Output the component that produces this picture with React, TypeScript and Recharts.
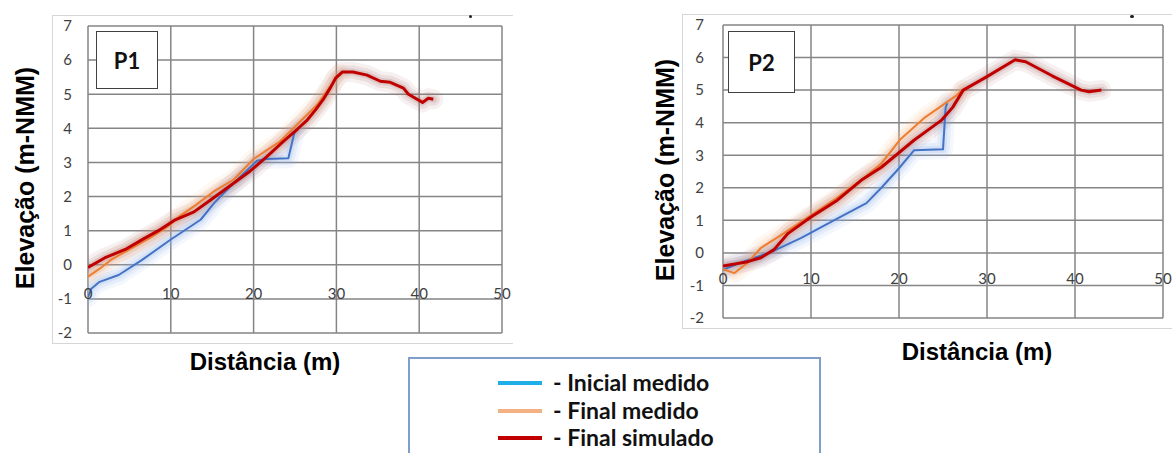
import React from "react";
import { LineChart, Line, XAxis, YAxis, CartesianGrid } from "recharts";

type Pt = [number, number];

// Distance (m), Elevation (m-NMM)
const p1Inicial: Pt[] = [
  [0, -0.95], [0.4, -0.7], [1.4, -0.5], [3.7, -0.3], [6.4, 0.12], [10, 0.74], [13.6, 1.32],
  [15.2, 1.8], [17.2, 2.3], [20.4, 3.05], [21.5, 3.1], [24.2, 3.12], [24.9, 3.85], [25.4, 4.0],
];
const p1Final: Pt[] = [
  [0, -0.35], [1.5, -0.1], [2.8, 0.15], [5, 0.45], [7.6, 0.8], [9.5, 1.1], [11.2, 1.45], [13, 1.75],
  [15.2, 2.15], [17.6, 2.5], [20, 3.1], [23.2, 3.62], [24.8, 4.0], [27.7, 4.7],
  [29.9, 5.45], [30.4, 5.6],
];
const p1Simulado: Pt[] = [
  [0, -0.08], [2, 0.2], [4.5, 0.45], [6.7, 0.76], [8.5, 1.0], [10.4, 1.3], [12.8, 1.55], [14.8, 1.9],
  [16.5, 2.2], [18.2, 2.5], [19.6, 2.75], [21.5, 3.15], [23.6, 3.62], [25.3, 3.98], [26.5, 4.25],
  [27.5, 4.55], [28.5, 4.88], [29.3, 5.2], [29.9, 5.47], [30.7, 5.65], [32, 5.65], [33.7, 5.56],
  [35.3, 5.38], [36.5, 5.35], [38.1, 5.18], [38.7, 5.0], [40.4, 4.76], [41.1, 4.88], [41.7, 4.85],
];

const p2Inicial: Pt[] = [
  [0, -0.52], [2, -0.3], [5.5, 0.03], [8.9, 0.46], [12.6, 1.0], [16.3, 1.53], [18, 2.0], [20, 2.6],
  [21.7, 3.15], [25, 3.18], [25.3, 4.47], [25.5, 4.6],
];
const p2Final: Pt[] = [
  [0, -0.5], [1.3, -0.62], [2.8, -0.3], [4.3, 0.15], [6.9, 0.6], [8, 0.8], [10, 1.15], [13, 1.7],
  [16, 2.3], [18, 2.75], [20.2, 3.5], [22.8, 4.13], [26.5, 4.83], [27.2, 5.0],
];
const p2Simulado: Pt[] = [
  [0, -0.4], [2.8, -0.27], [4.3, -0.15], [5.8, 0.1], [7.4, 0.6], [10, 1.1], [13, 1.62], [15.7, 2.23],
  [18, 2.63], [21.7, 3.46], [24.8, 4.07], [26.1, 4.47], [27.3, 5.0], [29.9, 5.4], [33.2, 5.93],
  [34.4, 5.87], [37.4, 5.44], [40.7, 5.0], [41.6, 4.95], [43, 5.0],
];

const xTicks = [0, 10, 20, 30, 40, 50];
const yTicks = [-2, -1, 0, 1, 2, 3, 4, 5, 6, 7];
const legendNames = ["- Inicial medido", "- Final medido", "- Final simulado"];
const legendColors = ["#1FAEE6", "#F4B183", "#C00000"];
const seriesColors = ["#4472C4", "#ED7D31", "#C00000"];
const glowColors = ["#8fb2ec", "#f7b98e", "#a8706f"];
const yTitle = "Elevação (m-NMM)";
const xTitle = "Distância (m)";

const toRows = (pts: Pt[]) => pts.map(([x, y]) => ({ x, y }));

const tickFont = "Lato, 'Liberation Sans', sans-serif";
const titleFont = "'Liberation Sans', Arial, sans-serif";

const renderXTick = (props: any) => (
  <text
    key={`xt-${props.payload.value}`}
    x={props.x}
    y={props.y - 40}
    textAnchor="middle"
    dominantBaseline="central"
    fill="#404040"
    fontSize={15}
    fontFamily={tickFont}
  >
    {props.payload.value}
  </text>
);

type PanelProps = {
  left: number;
  top: number;
  width: number;
  height: number;
  margin: { top: number; right: number; bottom: number; left: number };
  xAxisHeight: number;
  yAxisWidth: number;
  tickGap: number;
  inicial: Pt[];
  final: Pt[];
  simulado: Pt[];
};

const glowLayers = [
  { width: 20, opacity: 0.1 },
  { width: 13, opacity: 0.14 },
  { width: 7, opacity: 0.2 },
];

function Panel(p: PanelProps) {
  const series = [p.inicial, p.final, p.simulado];
  const widths = [2, 2, 3];
  return (
    <div
      style={{
        position: "absolute",
        left: p.left,
        top: p.top,
        width: p.width,
        height: p.height,
        borderTop: "1px solid #d6d6d6",
        borderLeft: "1px solid #d6d6d6",
        borderBottom: "1px solid #d6d6d6",
        boxSizing: "border-box",
      }}
    >
      <div style={{ position: "absolute", left: -1, top: -1 }}>
        <LineChart width={p.width} height={p.height} margin={p.margin}>
          <CartesianGrid stroke="#858585" strokeWidth={1.5} />
          <XAxis
            type="number"
            dataKey="x"
            domain={[0, 50]}
            ticks={xTicks}
            height={p.xAxisHeight}
            tickSize={0}
            tickMargin={0}
            axisLine={false}
            tickLine={false}
            tick={renderXTick}
            interval={0}
            allowDataOverflow
          />
          <YAxis
            type="number"
            dataKey="y"
            domain={[-2, 7]}
            ticks={yTicks}
            width={p.yAxisWidth}
            tickSize={0}
            tickMargin={p.tickGap}
            axisLine={false}
            tickLine={false}
            tick={{ fill: "#404040", fontSize: 15, fontFamily: tickFont }}
            interval={0}
            allowDataOverflow
          />
          {glowLayers.map((g, gi) =>
            series.map((s, i) => (
              <Line
                key={`g${gi}-${i}`}
                data={toRows(s)}
                dataKey="y"
                stroke={glowColors[i]}
                strokeOpacity={g.opacity}
                strokeWidth={g.width}
                strokeLinecap="round"
                strokeLinejoin="round"
                dot={false}
                activeDot={false}
                isAnimationActive={false}
              />
            ))
          )}
          {series.map((s, i) => (
            <Line
              key={`s-${i}`}
              data={toRows(s)}
              dataKey="y"
              stroke={seriesColors[i]}
              strokeWidth={widths[i]}
              strokeLinejoin="round"
              dot={false}
              isAnimationActive={false}
            />
          ))}
        </LineChart>
      </div>
    </div>
  );
}

function Title({ text, cx, cy, rotate, size }: { text: string; cx: number; cy: number; rotate?: boolean; size: number }) {
  return (
    <div
      style={{
        position: "absolute",
        left: cx,
        top: cy,
        transform: `translate(-50%, -50%)${rotate ? " rotate(-90deg)" : ""}`,
        whiteSpace: "nowrap",
        fontFamily: titleFont,
        fontWeight: 700,
        fontSize: size,
        color: "#000",
        lineHeight: 1,
      }}
    >
      {text}
    </div>
  );
}

function PBox({ label, left, top, width, height }: { label: string; left: number; top: number; width: number; height: number }) {
  return (
    <div
      style={{
        position: "absolute",
        left,
        top,
        width,
        height,
        border: "1.5px solid #404040",
        background: "#fff",
        boxSizing: "border-box",
        display: "flex",
        alignItems: "center",
        justifyContent: "center",
        fontFamily: tickFont,
        fontWeight: 700,
        fontSize: 22,
        color: "#111",
      }}
    >
      {label}
    </div>
  );
}

export default function App() {
  return (
    <div
      style={{
        position: "absolute",
        left: 0,
        top: 0,
        width: 1172,
        height: 453,
        overflow: "hidden",
        background: "#fff",
      }}
    >
      <Panel
        left={52}
        top={15}
        width={461}
        height={329}
        margin={{ top: 11, right: 11, bottom: 0, left: 1 }}
        xAxisHeight={11}
        yAxisWidth={35}
        tickGap={16}
        inicial={p1Inicial}
        final={p1Final}
        simulado={p1Simulado}
      />
      <PBox label="P1" left={96} top={31} width={62} height={58} />
      <Title text={yTitle} cx={25} cy={178} rotate size={25} />
      <Title text={xTitle} cx={265} cy={362} size={24} />

      <Panel
        left={682}
        top={14}
        width={491}
        height={315}
        margin={{ top: 11, right: 10, bottom: 0, left: 1 }}
        xAxisHeight={11}
        yAxisWidth={40}
        tickGap={19}
        inicial={p2Inicial}
        final={p2Final}
        simulado={p2Simulado}
      />
      <PBox label="P2" left={728} top={31} width={67} height={62} />
      <Title text={yTitle} cx={665} cy={170} rotate size={25} />
      <Title text={xTitle} cx={977} cy={352} size={24} />

      <div style={{ position: "absolute", left: 469, top: 15, width: 3, height: 3, borderRadius: 2, background: "#222" }} />
      <div style={{ position: "absolute", left: 1130, top: 15, width: 4, height: 3, borderRadius: 2, background: "#222" }} />

      <div
        style={{
          position: "absolute",
          left: 408,
          top: 357,
          width: 413,
          height: 120,
          border: "2px solid #7f9fca",
          boxSizing: "border-box",
          background: "#fff",
        }}
      />
      {legendNames.map((name, i) => (
        <React.Fragment key={name}>
          <div
            style={{
              position: "absolute",
              left: 498,
              top: 381 + i * 27.5,
              width: 44,
              height: 4,
              background: legendColors[i],
            }}
          />
          <div
            style={{
              position: "absolute",
              left: 553,
              top: 382 + i * 27.5,
              transform: "translateY(-50%)",
              whiteSpace: "nowrap",
              fontFamily: tickFont,
              fontWeight: 700,
              fontSize: 23,
              color: "#111",
              lineHeight: 1,
            }}
          >
            {name}
          </div>
        </React.Fragment>
      ))}
    </div>
  );
}
